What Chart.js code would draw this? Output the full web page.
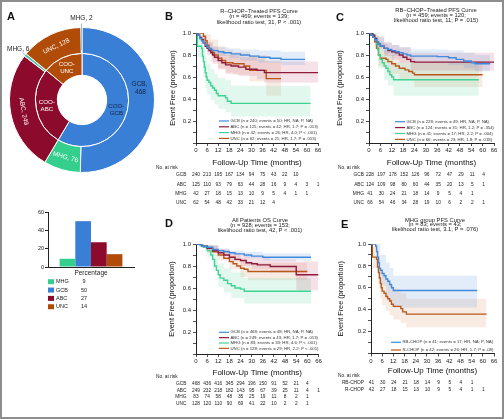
<!DOCTYPE html>
<html>
<head>
<meta charset="utf-8">
<title>COO / MHG survival figure</title>
<script src="https://cdn.jsdelivr.net/npm/chart.js@4.4.0/dist/chart.umd.min.js"></script>
<style>
  body { margin: 0; background: #fff; }
  #fig { position: relative; width: 504px; height: 419px; overflow: hidden; background: #fff; }
  #frame { position: absolute; left: 0; top: 0; width: 504px; height: 419px; box-sizing: border-box; border: 2px solid #8d8d8d; pointer-events: none; }
  canvas { position: absolute; }
  .tag { position: absolute; font: bold 11px 'Liberation Sans', Arial, sans-serif; line-height: 11px; color: #111; }
</style>
</head>
<body>
<div id="fig">
  <canvas id="donut" width="165" height="200" style="left:0;top:0"></canvas>
  <canvas id="pct" width="160" height="120" style="left:0;top:200px"></canvas>
  <canvas id="kmB"></canvas>
  <canvas id="kmC"></canvas>
  <canvas id="kmD"></canvas>
  <canvas id="kmE"></canvas>
  <div class="tag" style="left:7px;top:11px">A</div>
  <div class="tag" style="left:165px;top:11px">B</div>
  <div class="tag" style="left:336px;top:12px">C</div>
  <div class="tag" style="left:165px;top:218px">D</div>
  <div class="tag" style="left:341px;top:219px">E</div>
  <div id="frame"></div>
</div>
<script>
const FONT = "'Liberation Sans', Arial, sans-serif";

// panel A: donut + percentage bars
const OUTER_NAMES = ['GCB', 'MHG', 'ABC', 'MHG', 'UNC', 'MHG'];
const OUTER_VALUES = [468, 76, 249, 6, 128, 2];
const INNER_NAMES = ['COO-GCB', 'COO-ABC', 'COO-UNC'];
const INNER_VALUES = [544, 255, 130];
const PCT_NAMES = ['MHG', 'GCB', 'ABC', 'UNC'];
const PCT_VALUES = [9, 50, 27, 14];

// time axis / numbers at risk
const RISK_TIMES = [0, 6, 12, 18, 24, 30, 36, 42, 48, 54, 60, 66];

// B: R-CHOP PFS
const B_GCB = [[0,1],[1,0.98],[2,0.95],[3,0.93],[4,0.91],[5,0.89],[6,0.87],[7,0.86],[8,0.85],[9,0.84],[12,0.83],[15,0.82],[19,0.81],[24,0.8],[29,0.79],[34,0.78],[40,0.77],[46,0.76],[59,0.76]];
const B_ABC = [[0,1],[1,0.98],[2,0.96],[3,0.94],[4,0.91],[5,0.88],[6,0.86],[7,0.84],[8,0.82],[9,0.8],[10,0.78],[12,0.75],[14,0.73],[16,0.71],[19,0.7],[23,0.69],[27,0.67],[33,0.66],[37,0.64],[66,0.64]];
const B_MHG = [[0,1],[0.7,0.88],[3,0.86],[3.5,0.79],[4,0.74],[4.5,0.69],[5,0.64],[5.5,0.6],[6,0.57],[7,0.55],[8,0.52],[9,0.5],[10,0.48],[11,0.45],[12,0.43],[16,0.41],[17,0.38],[19,0.36],[62,0.36]];
const B_UNC = [[0,1],[4,0.97],[5,0.93],[6,0.89],[7,0.86],[8,0.84],[9,0.82],[10,0.8],[12,0.77],[14,0.75],[16,0.73],[20,0.72],[26,0.7],[29,0.66],[38,0.585],[46,0.585]];
const B_GCB_HI = [[0,1],[3,0.96],[6,0.91],[9,0.88],[12,0.87],[18,0.86],[24,0.85],[34,0.84],[46,0.83],[59,0.83]];
const B_GCB_LO = [[0,1],[3,0.9],[6,0.83],[9,0.8],[12,0.79],[18,0.77],[24,0.75],[34,0.73],[46,0.71],[59,0.71]];
const B_ABC_HI = [[0,1],[3,0.98],[6,0.92],[9,0.87],[12,0.83],[16,0.8],[23,0.78],[33,0.76],[37,0.74],[66,0.74]];
const B_ABC_LO = [[0,1],[3,0.9],[6,0.8],[9,0.72],[12,0.67],[16,0.63],[23,0.61],[33,0.58],[37,0.55],[66,0.55]];
const B_MHG_HI = [[0,1],[1,0.98],[3,0.96],[4,0.88],[5,0.78],[6,0.72],[8,0.67],[10,0.63],[12,0.59],[16,0.57],[19,0.52],[62,0.52]];
const B_MHG_LO = [[0,1],[1,0.78],[3,0.76],[4,0.6],[5,0.5],[6,0.44],[8,0.39],[10,0.35],[12,0.31],[16,0.28],[19,0.24],[62,0.24]];
const B_UNC_HI = [[0,1],[5,0.99],[8,0.94],[12,0.88],[16,0.85],[20,0.83],[29,0.8],[38,0.75],[46,0.75]];
const B_UNC_LO = [[0,1],[5,0.87],[8,0.74],[12,0.68],[16,0.64],[20,0.62],[29,0.56],[38,0.43],[46,0.43]];
const B_RISK_GCB = [240, 213, 195, 167, 134, 94, 75, 43, 22, 10];
const B_RISK_ABC = [125, 110, 93, 79, 63, 44, 28, 16, 9, 4, 3, 1];
const B_RISK_MHG = [42, 27, 18, 15, 13, 10, 9, 5, 4, 1, 1];
const B_RISK_UNC = [62, 54, 48, 42, 33, 21, 12, 4];
const B_LEGEND = ['GCB (n = 240; events = 50; HR, NA; P, NA)', 'ABC (n = 125; events = 42; HR, 1.7; P = .013)', 'MHG (n = 42; events = 26; HR, 4.0; P < .001)', 'UNC (n = 62; events = 21; HR, 1.7; P = .053)'];
const B_TITLE = ['R\u2212CHOP\u2212Treated PFS Curve', '(n = 469; events = 139;', 'likelihood ratio test, 31, P < .001)'];

// C: RB-CHOP PFS
const C_GCB = [[0,1],[1,0.98],[2,0.96],[3,0.94],[4,0.92],[5,0.9],[6,0.88],[8,0.86],[10,0.85],[12,0.84],[14,0.83],[16,0.82],[18,0.81],[20,0.8],[22,0.79],[36,0.785],[42,0.775],[46,0.76],[50,0.745],[54,0.73],[56,0.72],[64,0.72]];
const C_ABC = [[0,1],[2,0.98],[3,0.95],[4,0.92],[5,0.9],[6,0.88],[8,0.86],[10,0.84],[12,0.83],[14,0.82],[16,0.8],[18,0.78],[20,0.76],[22,0.74],[24,0.735],[66,0.735]];
const C_MHG = [[0,1],[2,0.98],[3,0.95],[4,0.9],[4.5,0.85],[5,0.8],[6,0.76],[7,0.73],[8,0.7],[9,0.68],[10,0.65],[11,0.62],[12,0.6],[13,0.575],[58,0.575]];
const C_UNC = [[0,1],[1,0.98],[2,0.96],[3,0.92],[4,0.86],[5,0.8],[6,0.77],[9,0.76],[10,0.74],[12,0.72],[14,0.7],[16,0.68],[19,0.665],[21,0.65],[23,0.635],[24,0.62],[60,0.62]];
const C_GCB_HI = [[0,1],[4,0.96],[8,0.91],[12,0.89],[16,0.87],[22,0.85],[42,0.84],[50,0.82],[56,0.8],[64,0.8]];
const C_GCB_LO = [[0,1],[4,0.88],[8,0.81],[12,0.79],[16,0.77],[22,0.74],[42,0.71],[50,0.68],[56,0.65],[64,0.65]];
const C_ABC_HI = [[0,1],[4,0.97],[8,0.92],[12,0.89],[16,0.87],[22,0.82],[66,0.82]];
const C_ABC_LO = [[0,1],[4,0.86],[8,0.79],[12,0.76],[16,0.73],[22,0.66],[66,0.65]];
const C_MHG_HI = [[0,1],[3,1],[5,0.92],[8,0.84],[10,0.8],[13,0.73],[58,0.73]];
const C_MHG_LO = [[0,1],[3,0.88],[5,0.68],[8,0.57],[10,0.52],[13,0.43],[58,0.43]];
const C_UNC_HI = [[0,1],[3,0.98],[5,0.9],[10,0.85],[16,0.79],[24,0.74],[60,0.74]];
const C_UNC_LO = [[0,1],[3,0.86],[5,0.7],[10,0.63],[16,0.57],[24,0.51],[60,0.51]];
const C_RISK_GCB = [228, 197, 178, 152, 126, 96, 72, 47, 29, 11, 4];
const C_RISK_ABC = [124, 109, 98, 80, 60, 44, 35, 20, 13, 5, 1];
const C_RISK_MHG = [41, 30, 24, 21, 18, 14, 9, 5, 4, 1];
const C_RISK_UNC = [66, 54, 46, 34, 28, 19, 10, 6, 2, 2, 1];
const C_LEGEND = ['GCB (n = 228; events = 49; HR, NA; P, NA)', 'ABC (n = 124; events = 31; HR, 1.2; P = .354)', 'MHG (n = 41; events = 17; HR, 2.2; P = .004)', 'UNC (n = 66; events = 23; HR, 1.8; P = .018)'];
const C_TITLE = ['RB\u2212CHOP\u2212Treated PFS Curve', '(n = 459; events = 120;', 'likelihood ratio test, 11; P = .015)'];

// D: all patients OS
const D_GCB = [[0,1],[3,0.98],[6,0.97],[9,0.95],[12,0.94],[15,0.93],[18,0.92],[21,0.91],[26,0.9],[30,0.89],[36,0.88],[62,0.88]];
const D_ABC = [[0,1],[3,0.98],[6,0.96],[9,0.94],[12,0.92],[15,0.9],[18,0.88],[21,0.86],[24,0.85],[27,0.83],[30,0.82],[33,0.81],[40,0.795],[54,0.72],[66,0.72]];
const D_MHG = [[0,1],[2,0.99],[4,0.97],[6,0.94],[8,0.9],[9,0.86],[10,0.8],[11,0.76],[12,0.72],[13,0.69],[15,0.67],[17,0.64],[19,0.62],[21,0.6],[24,0.59],[26,0.57],[62,0.57]];
const D_UNC = [[0,1],[3,0.98],[6,0.96],[9,0.93],[12,0.9],[15,0.87],[18,0.84],[20,0.82],[22,0.8],[24,0.78],[26,0.77],[28,0.75],[60,0.75]];
const D_GCB_HI = [[0,1],[6,0.99],[12,0.96],[18,0.94],[26,0.93],[36,0.915],[62,0.915]];
const D_GCB_LO = [[0,1],[6,0.95],[12,0.92],[18,0.9],[26,0.87],[36,0.85],[62,0.845]];
const D_ABC_HI = [[0,1],[6,0.98],[12,0.95],[18,0.92],[24,0.9],[30,0.88],[40,0.86],[54,0.84],[66,0.84]];
const D_ABC_LO = [[0,1],[6,0.93],[12,0.89],[18,0.84],[24,0.8],[30,0.77],[40,0.74],[54,0.58],[66,0.58]];
const D_MHG_HI = [[0,1],[6,0.99],[9,0.95],[12,0.82],[15,0.78],[19,0.74],[26,0.69],[62,0.69]];
const D_MHG_LO = [[0,1],[6,0.88],[9,0.77],[12,0.61],[15,0.56],[19,0.51],[26,0.46],[62,0.46]];
const D_UNC_HI = [[0,1],[6,0.99],[12,0.95],[18,0.9],[24,0.86],[28,0.83],[60,0.83]];
const D_UNC_LO = [[0,1],[6,0.92],[12,0.85],[18,0.77],[24,0.7],[28,0.67],[60,0.67]];
const D_RISK_GCB = [468, 436, 416, 345, 294, 196, 150, 91, 52, 21, 4];
const D_RISK_ABC = [249, 232, 218, 182, 143, 95, 67, 39, 25, 11, 4, 1];
const D_RISK_MHG = [83, 74, 58, 48, 35, 25, 19, 11, 8, 2, 1];
const D_RISK_UNC = [128, 120, 110, 90, 69, 41, 22, 10, 2, 2, 1];
const D_LEGEND = ['GCB (n = 468; events = 48; HR, NA; P, NA)', 'ABC (n = 249; events = 43; HR, 1.7; P = .013)', 'MHG (n = 83; events = 33; HR, 4.6; P < .001)', 'UNC (n = 128; events = 29; HR, 2.2; P < .001)'];
const D_TITLE = ['All Patients OS Curve', '(n = 928; events = 153;', 'likelihood ratio test, 42, P < .001)'];

// E: MHG group PFS
const E_RB = [[0,1],[2.5,0.98],[3,0.93],[3.5,0.88],[4,0.83],[4.5,0.78],[5,0.76],[6,0.73],[7,0.71],[8,0.68],[9,0.66],[10,0.63],[11,0.6],[12,0.575],[57,0.575]];
const E_R = [[0,1],[0.7,0.88],[3,0.86],[3.5,0.79],[4,0.74],[4.5,0.69],[5,0.64],[5.5,0.6],[6,0.57],[7,0.55],[8,0.52],[9,0.5],[10,0.48],[11,0.45],[12,0.43],[16,0.41],[17,0.38],[19,0.36],[62,0.36]];
const E_RB_HI = [[0,1],[3,1],[5,0.9],[8,0.83],[10,0.78],[12,0.71],[57,0.71]];
const E_RB_LO = [[0,1],[3,0.83],[5,0.62],[8,0.53],[10,0.48],[12,0.42],[57,0.42]];
const E_R_HI = [[0,1],[1,0.98],[3,0.96],[4,0.88],[5,0.78],[6,0.72],[8,0.67],[10,0.63],[12,0.59],[16,0.55],[19,0.5],[62,0.5]];
const E_R_LO = [[0,1],[1,0.78],[3,0.76],[4,0.6],[5,0.5],[6,0.44],[8,0.39],[10,0.35],[12,0.31],[16,0.28],[19,0.24],[62,0.24]];
const E_RISK_RB = [41, 30, 24, 21, 18, 14, 9, 5, 4, 1];
const E_RISK_R = [42, 27, 18, 15, 13, 10, 9, 5, 4, 1, 1];
const E_LEGEND = ['RB-CHOP (n = 41; events = 17; HR, NA; P, NA)', 'R-CHOP (n = 42; events = 26; HR, 1.7; P = .08)'];
const E_TITLE = ['MHG group PFS Curve', '(n = 83; events = 43;', 'likelihood ratio test, 3.1; P = .076)'];

// colours
const COL = { GCB: '#3a7fd6', MHG: '#34cf8c', ABC: '#8c0b2d', UNC: '#b04c08' };
const LINE = { GCB: '#4189db', ABC: '#8e1a3c', MHG: '#3fd393', UNC: '#b8581c' };
const BAND = { GCB: 'rgba(74,143,220,0.16)', ABC: 'rgba(190,40,95,0.14)', MHG: 'rgba(63,211,147,0.15)', UNC: 'rgba(200,100,40,0.13)' };

Chart.defaults.font.family = FONT;
Chart.defaults.color = '#222';

// ---------- donut ----------
const donutLabels = {
  id: 'donutLabels',
  afterDatasetsDraw(chart) {
    const ctx = chart.ctx;
    ctx.save();
    ctx.textAlign = 'center';
    ctx.textBaseline = 'middle';
    ctx.font = '6.5px ' + FONT;
    chart.getDatasetMeta(0).data.forEach((arc, i) => {
      const v = OUTER_VALUES[i], name = OUTER_NAMES[i];
      const mid = (arc.startAngle + arc.endAngle) / 2;
      if (v < 10) {
        const r0 = arc.innerRadius + 3, r1 = arc.outerRadius + 4, rl = arc.outerRadius + 9;
        ctx.strokeStyle = '#86acd6';
        ctx.lineWidth = 0.8;
        ctx.beginPath();
        ctx.moveTo(arc.x + r0 * Math.cos(mid), arc.y + r0 * Math.sin(mid));
        ctx.lineTo(arc.x + r1 * Math.cos(mid), arc.y + r1 * Math.sin(mid));
        ctx.stroke();
        ctx.fillStyle = '#222';
        ctx.fillText(name + ', ' + v, arc.x + rl * Math.cos(mid), arc.y + rl * Math.sin(mid));
        return;
      }
      const c = arc.getCenterPoint();
      if (arc.endAngle - arc.startAngle > Math.PI * 0.8) {
        ctx.fillStyle = '#15233e';
        ctx.fillText(name + ',', c.x - 2, c.y - 17);
        ctx.fillText(String(v), c.x - 1, c.y - 9);
        return;
      }
      let rot = mid + Math.PI / 2;
      while (rot > Math.PI / 2) rot -= Math.PI;
      ctx.save();
      ctx.translate(c.x, c.y);
      ctx.rotate(rot);
      ctx.fillStyle = '#fff';
      ctx.fillText(name + ', ' + v, 0, 0);
      ctx.restore();
    });
    ctx.font = '6.2px ' + FONT;
    chart.getDatasetMeta(1).data.forEach((arc, i) => {
      const c = arc.getCenterPoint();
      const parts = INNER_NAMES[i].split('-');
      ctx.fillStyle = i === 0 ? '#15233e' : '#fff';
      ctx.fillText(parts[0] + '-', c.x, c.y - 3.6);
      ctx.fillText(parts[1], c.x, c.y + 3.6);
    });
    ctx.restore();
  }
};

new Chart(document.getElementById('donut'), {
  type: 'doughnut',
  data: {
    labels: OUTER_NAMES,
    datasets: [
      { data: OUTER_VALUES, backgroundColor: OUTER_NAMES.map(n => COL[n]), borderColor: '#fff', borderWidth: 1, weight: 26 },
      { data: INNER_VALUES, backgroundColor: INNER_NAMES.map(n => COL[n.slice(4)]), borderColor: '#fff', borderWidth: 1, weight: 22 }
    ]
  },
  options: {
    responsive: false,
    animation: false,
    cutout: '34%',
    layout: { padding: { left: 9, top: 27, right: 10, bottom: 27 } },
    plugins: { legend: { display: false }, tooltip: { enabled: false } }
  },
  plugins: [donutLabels]
});

// ---------- percentage bars ----------
const pctTable = {
  id: 'pctTable',
  afterDraw(chart) {
    const ctx = chart.ctx;
    ctx.save();
    ctx.font = '5.5px ' + FONT;
    ctx.textBaseline = 'middle';
    PCT_NAMES.forEach((n, i) => {
      const y = 81.7 + i * 8.35;
      ctx.fillStyle = COL[n];
      ctx.fillRect(48, y - 2.5, 6, 5);
      ctx.fillStyle = '#222';
      ctx.textAlign = 'left';
      ctx.fillText(n, 56, y);
      ctx.textAlign = 'center';
      ctx.fillText(String(PCT_VALUES[i]), 84, y);
    });
    ctx.restore();
  }
};

new Chart(document.getElementById('pct'), {
  type: 'bar',
  data: {
    labels: ['Percentage'],
    datasets: PCT_NAMES.map((n, i) => ({ label: n, data: [PCT_VALUES[i]], backgroundColor: COL[n], categoryPercentage: 0.73, barPercentage: 1 }))
  },
  options: {
    responsive: false,
    animation: false,
    layout: { padding: { left: 28, top: 12, right: 26, bottom: 43 } },
    plugins: { legend: { display: false }, tooltip: { enabled: false } },
    scales: {
      x: {
        grid: { display: false, drawTicks: false },
        border: { color: '#222' },
        ticks: { font: { size: 6.5 }, color: '#222', padding: 2.4 },
        afterFit: s => { s.height = 10; }
      },
      y: {
        min: 0, max: 60,
        ticks: { stepSize: 10, font: { size: 5.5 }, color: '#222', padding: 1 },
        grid: { drawOnChartArea: false, tickLength: 3, color: '#222' },
        border: { color: '#222' },
        afterFit: s => { s.width = 20; }
      }
    }
  },
  plugins: [pctTable]
});

// ---------- Kaplan-Meier panels ----------
function kmPanel(id, p) {
  const cv = document.getElementById(id);
  cv.width = p.box.w;
  cv.height = p.box.h;
  cv.style.left = p.box.x + 'px';
  cv.style.top = p.box.y + 'px';
  const xy = pts => pts.map(q => ({ x: q[0], y: q[1] }));

  const datasets = p.groups.map(g => ({
    data: xy(g.pts), borderColor: g.color, borderWidth: 1.4, stepped: true, pointRadius: 0, fill: false, order: 0
  }));
  p.groups.forEach(g => {
    const lo = datasets.length;
    datasets.push({ data: xy(g.lo), borderWidth: 0, stepped: true, pointRadius: 0, fill: false, order: 1 });
    datasets.push({ data: xy(g.hi), borderWidth: 0, stepped: true, pointRadius: 0, fill: lo, backgroundColor: g.band, order: 1 });
  });

  const ox = p.box.x, oy = p.box.y;
  const extras = {
    id: 'kmExtras',
    afterDraw(chart) {
      const ctx = chart.ctx, xs = chart.scales.x;
      ctx.save();
      // title
      ctx.fillStyle = '#222';
      ctx.textAlign = 'center';
      ctx.textBaseline = 'middle';
      ctx.font = '5.8px ' + FONT;
      p.title.forEach((t, i) => ctx.fillText(t, p.titleX - ox, p.titleY[i] - oy));
      // legend inside plot
      ctx.font = '4.3px ' + FONT;
      ctx.textAlign = 'left';
      p.groups.forEach((g, i) => {
        const y = p.legend.y + i * p.legend.dy - oy;
        ctx.strokeStyle = g.color;
        ctx.lineWidth = 1.2;
        ctx.beginPath();
        ctx.moveTo(p.legend.x - ox, y);
        ctx.lineTo(p.legend.x + 10 - ox, y);
        ctx.stroke();
        ctx.fillStyle = '#333';
        ctx.fillText(g.legend, p.legend.x + 11.5 - ox, y);
      });
      // numbers at risk
      ctx.font = '4.8px ' + FONT;
      ctx.fillStyle = '#222';
      ctx.fillText('No. at risk', p.risk.headX - ox, p.risk.headY - oy);
      p.groups.forEach((g, i) => {
        const y = p.risk.rowY[i] - oy;
        ctx.textAlign = 'right';
        ctx.fillText(g.name, p.risk.labelX - ox, y);
        ctx.textAlign = 'center';
        g.risk.forEach((n, j) => ctx.fillText(String(n), xs.getPixelForValue(RISK_TIMES[j]) + p.risk.shift, y));
      });
      ctx.restore();
    }
  };

  new Chart(cv, {
    type: 'line',
    data: { datasets },
    options: {
      responsive: false,
      animation: false,
      layout: {
        padding: {
          left: p.plot.l - p.yw - ox,
          top: p.plot.t - oy,
          right: ox + p.box.w - p.plot.r,
          bottom: oy + p.box.h - p.plot.b - p.xh
        }
      },
      plugins: { legend: { display: false }, tooltip: { enabled: false }, filler: { drawTime: 'beforeDatasetsDraw' } },
      scales: {
        x: {
          type: 'linear', min: 0, max: 66,
          ticks: { stepSize: 6, font: { size: 6 }, color: '#222', padding: 1, maxRotation: 0, autoSkip: false },
          grid: { drawOnChartArea: false, tickLength: 3, color: '#222', lineWidth: 0.8 },
          border: { color: '#222', width: 1 },
          title: { display: true, text: 'Follow-Up Time (months)', font: { size: 8 }, color: '#111', padding: 0 },
          afterFit: s => { s.height = p.xh; }
        },
        y: {
          min: 0, max: 1,
          ticks: {
            stepSize: 0.1, font: { size: 6 }, color: '#222', padding: 2, autoSkip: false,
            callback: v => { const k = Math.round(v * 10); return (k > 0 && k % 2 === 0) ? (k / 10).toFixed(1) : ''; }
          },
          grid: { drawOnChartArea: false, tickLength: 3, color: '#222', lineWidth: 0.8 },
          border: { color: '#222', width: 1 },
          title: { display: true, text: 'Event Free (proportion)', font: { size: 7.3 }, color: '#111', padding: 0 },
          afterFit: s => { s.width = p.yw; }
        }
      }
    },
    plugins: [extras]
  });
}

const grp = (name, key, pts, hi, lo, risk, legend) => ({ name, pts, hi, lo, risk, legend, color: LINE[key], band: BAND[key] });

kmPanel('kmB', {
  box: { x: 150, y: 0, w: 180, h: 210 }, plot: { l: 196, r: 318, t: 33, b: 143 }, yw: 27, xh: 25,
  title: B_TITLE, titleX: 259, titleY: [11.7, 16.7, 22.3],
  legend: { x: 219, y: 121, dy: 5.8 },
  risk: { headX: 156, headY: 168, labelX: 186.5, shift: 0, rowY: [175, 184.3, 194, 203] },
  groups: [
    grp('GCB', 'GCB', B_GCB, B_GCB_HI, B_GCB_LO, B_RISK_GCB, B_LEGEND[0]),
    grp('ABC', 'ABC', B_ABC, B_ABC_HI, B_ABC_LO, B_RISK_ABC, B_LEGEND[1]),
    grp('MHG', 'MHG', B_MHG, B_MHG_HI, B_MHG_LO, B_RISK_MHG, B_LEGEND[2]),
    grp('UNC', 'UNC', B_UNC, B_UNC_HI, B_UNC_LO, B_RISK_UNC, B_LEGEND[3])
  ]
});

kmPanel('kmC', {
  box: { x: 330, y: 0, w: 172, h: 210 }, plot: { l: 369, r: 494, t: 33, b: 143 }, yw: 33, xh: 25,
  title: C_TITLE, titleX: 436, titleY: [10, 15, 20],
  legend: { x: 395, y: 121.7, dy: 5.9 },
  risk: { headX: 338, headY: 168, labelX: 364, shift: 1, rowY: [175, 184.3, 194, 203] },
  groups: [
    grp('GCB', 'GCB', C_GCB, C_GCB_HI, C_GCB_LO, C_RISK_GCB, C_LEGEND[0]),
    grp('ABC', 'ABC', C_ABC, C_ABC_HI, C_ABC_LO, C_RISK_ABC, C_LEGEND[1]),
    grp('MHG', 'MHG', C_MHG, C_MHG_HI, C_MHG_LO, C_RISK_MHG, C_LEGEND[2]),
    grp('UNC', 'UNC', C_UNC, C_UNC_HI, C_UNC_LO, C_RISK_UNC, C_LEGEND[3])
  ]
});

kmPanel('kmD', {
  box: { x: 150, y: 208, w: 180, h: 209 }, plot: { l: 196, r: 318.5, t: 244, b: 354 }, yw: 28, xh: 24,
  title: D_TITLE, titleX: 260, titleY: [220, 225, 230],
  legend: { x: 219, y: 332.3, dy: 5.35 },
  risk: { headX: 156, headY: 377, labelX: 186.5, shift: 0, rowY: [384, 390.5, 397, 404] },
  groups: [
    grp('GCB', 'GCB', D_GCB, D_GCB_HI, D_GCB_LO, D_RISK_GCB, D_LEGEND[0]),
    grp('ABC', 'ABC', D_ABC, D_ABC_HI, D_ABC_LO, D_RISK_ABC, D_LEGEND[1]),
    grp('MHG', 'MHG', D_MHG, D_MHG_HI, D_MHG_LO, D_RISK_MHG, D_LEGEND[2]),
    grp('UNC', 'UNC', D_UNC, D_UNC_HI, D_UNC_LO, D_RISK_UNC, D_LEGEND[3])
  ]
});

kmPanel('kmE', {
  box: { x: 330, y: 208, w: 172, h: 209 }, plot: { l: 371, r: 494, t: 244, b: 353.5 }, yw: 34, xh: 22,
  title: E_TITLE, titleX: 435, titleY: [220, 224.5, 229],
  legend: { x: 391, y: 342.3, dy: 7.7 },
  risk: { headX: 338, headY: 376, labelX: 364, shift: 0.5, rowY: [383, 389.5] },
  groups: [
    grp('RB-CHOP', 'GCB', E_RB, E_RB_HI, E_RB_LO, E_RISK_RB, E_LEGEND[0]),
    grp('R-CHOP', 'UNC', E_R, E_R_HI, E_R_LO, E_RISK_R, E_LEGEND[1])
  ]
});
</script>
</body>
</html>
